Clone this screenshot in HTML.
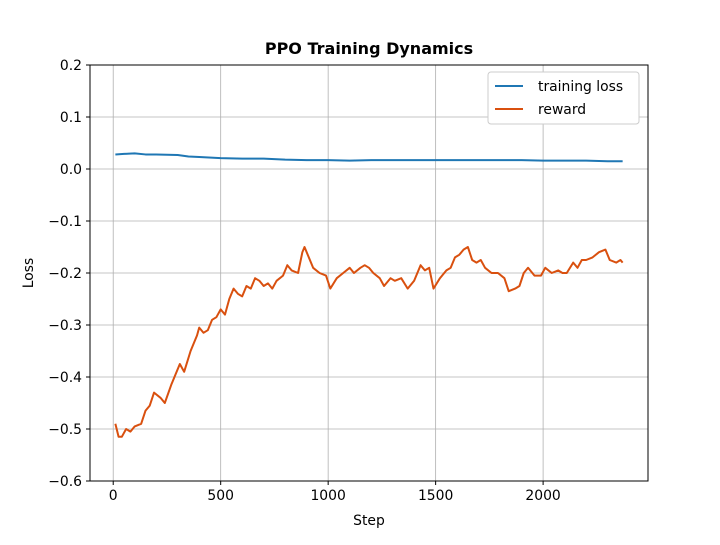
<!DOCTYPE html>
<html><head><meta charset="utf-8"><style>
body{margin:0;background:#fff}
svg text{font-family:"DejaVu Sans","Liberation Sans",sans-serif;fill:#000}
</style></head><body>
<svg id="chart" width="720" height="540">
<rect width="720" height="540" fill="#fff"/>
<text x="369" y="54" font-size="16" font-weight="bold" text-anchor="middle">PPO Training Dynamics</text>
<g id="grid"></g><g id="ticks"></g><g id="series"></g>
<rect x="90" y="65" width="558" height="416" fill="none" stroke="#000" stroke-width="1"/>
<text x="369" y="525" font-size="13.9" text-anchor="middle">Step</text>
<text transform="translate(33,273) rotate(-90)" font-size="13.9" text-anchor="middle">Loss</text>
<g>
<rect x="488" y="72" width="151" height="52" rx="3" fill="#fff" stroke="#ccc"/>
<line x1="495" y1="86" x2="523" y2="86" stroke="#1f77b4" stroke-width="2"/>
<text x="538" y="91" font-size="13.9">training loss</text>
<line x1="495" y1="109" x2="523" y2="109" stroke="#d9500f" stroke-width="2"/>
<text x="538" y="114" font-size="13.9">reward</text>
</g>
</svg>
<script>
const xTicks=[0,500,1000,1500,2000];
const yTicks=[0.2,0.1,0.0,-0.1,-0.2,-0.3,-0.4,-0.5,-0.6];
const yTickLabels=["0.2","0.1","0.0","\u22120.1","\u22120.2","\u22120.3","\u22120.4","\u22120.5","\u22120.6"];
const rewardSteps=[10,25,40,60,80,100,130,150,170,190,220,240,270,290,310,330,360,390,400,420,440,460,480,500,520,540,560,580,600,620,640,660,680,700,720,740,760,790,810,830,860,880,890,910,930,960,990,1010,1040,1070,1100,1120,1150,1170,1190,1210,1240,1260,1290,1310,1340,1370,1400,1430,1450,1470,1490,1520,1550,1570,1590,1610,1630,1650,1670,1690,1710,1730,1760,1790,1820,1840,1870,1890,1910,1930,1960,1990,2010,2040,2070,2090,2110,2140,2160,2180,2200,2230,2260,2290,2310,2340,2360,2370];
const rewardValues=[-0.49,-0.515,-0.515,-0.5,-0.505,-0.495,-0.49,-0.465,-0.455,-0.43,-0.44,-0.45,-0.415,-0.395,-0.375,-0.39,-0.35,-0.32,-0.305,-0.315,-0.31,-0.29,-0.285,-0.27,-0.28,-0.25,-0.23,-0.24,-0.245,-0.225,-0.23,-0.21,-0.215,-0.225,-0.22,-0.23,-0.215,-0.205,-0.185,-0.195,-0.2,-0.16,-0.15,-0.17,-0.19,-0.2,-0.205,-0.23,-0.21,-0.2,-0.19,-0.2,-0.19,-0.185,-0.19,-0.2,-0.21,-0.225,-0.21,-0.215,-0.21,-0.23,-0.215,-0.185,-0.195,-0.19,-0.23,-0.21,-0.195,-0.19,-0.17,-0.165,-0.155,-0.15,-0.175,-0.18,-0.175,-0.19,-0.2,-0.2,-0.21,-0.235,-0.23,-0.225,-0.2,-0.19,-0.205,-0.205,-0.19,-0.2,-0.195,-0.2,-0.2,-0.18,-0.19,-0.175,-0.175,-0.17,-0.16,-0.155,-0.175,-0.18,-0.175,-0.18];
const lossSteps=[10,50,100,150,200,300,350,400,500,600,700,800,900,1000,1100,1200,1300,1400,1500,1600,1700,1800,1900,2000,2100,2200,2300,2370];
const lossValues=[0.028,0.029,0.030,0.028,0.028,0.027,0.024,0.023,0.021,0.020,0.020,0.018,0.017,0.017,0.016,0.017,0.017,0.017,0.017,0.017,0.017,0.017,0.017,0.016,0.016,0.016,0.015,0.015];
const X0=90,X1=648,Y0=65,Y1=481,XMIN=-108,XMAX=2488,YMIN=-0.6,YMAX=0.2;
const sx=v=>X0+(v-XMIN)/(XMAX-XMIN)*(X1-X0);
const sy=v=>Y1-(v-YMIN)/(YMAX-YMIN)*(Y1-Y0);
const NS="http://www.w3.org/2000/svg";
function mk(tag,attrs,parent){const e=document.createElementNS(NS,tag);for(const k in attrs)e.setAttribute(k,attrs[k]);parent.appendChild(e);return e;}
const grid=document.getElementById('grid'),ticks=document.getElementById('ticks'),series=document.getElementById('series');
xTicks.forEach(t=>{const x=sx(t);
 const g=mk('line',{x1:x,x2:x,y1:Y0,y2:Y1,stroke:'#b0b0b0','stroke-width':0.8},grid);
 
 
 mk('line',{x1:x,x2:x,y1:Y1,y2:Y1+4,stroke:'#000'},ticks);
 const tx=mk('text',{x:x,y:Y1+19,'font-size':13.9,'text-anchor':'middle'},ticks);tx.textContent=t;
 
 });
yTicks.forEach((t,i)=>{const y=sy(t);
 const g=mk('line',{x1:X0,x2:X1,y1:y,y2:y,stroke:'#b0b0b0','stroke-width':0.8},grid);
 
 
 mk('line',{x1:X0-4,x2:X0,y1:y,y2:y,stroke:'#000'},ticks);
 const tx=mk('text',{x:X0-8,y:y+5,'font-size':13.9,'text-anchor':'end'},ticks);tx.textContent=yTickLabels[i];
 
 });
const lp=mk('polyline',{points:lossSteps.map((s,i)=>sx(s)+','+sy(lossValues[i])).join(' '),fill:'none',stroke:'#1f77b4','stroke-width':2,'stroke-linejoin':'round'},series);


const rp=mk('polyline',{points:rewardSteps.map((s,i)=>sx(s)+','+sy(rewardValues[i])).join(' '),fill:'none',stroke:'#d9500f','stroke-width':2,'stroke-linejoin':'round'},series);


</script>
</body></html>
